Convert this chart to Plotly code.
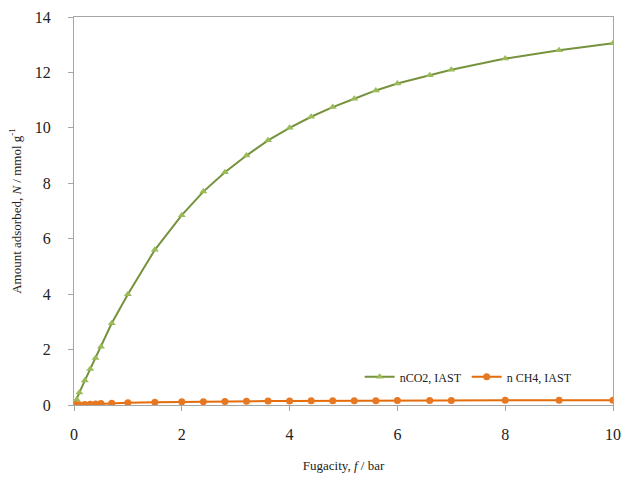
import plotly.graph_objects as go

# Fugacity (bar) at which the IAST amounts were evaluated
fugacity = [0, 0.05, 0.1, 0.2, 0.3, 0.4, 0.5, 0.7, 1.0, 1.5, 2.0, 2.4, 2.8, 3.2,
            3.6, 4.0, 4.4, 4.8, 5.2, 5.6, 6.0, 6.6, 7.0, 8.0, 9.0, 10.0]

# Amount adsorbed (mmol/g)
n_co2 = [0, 0.2, 0.45, 0.88, 1.3, 1.7, 2.1, 2.95, 4.0, 5.6, 6.85, 7.7, 8.4, 9.0,
         9.55, 10.0, 10.4, 10.75, 11.05, 11.35, 11.6, 11.9, 12.1, 12.5, 12.8, 13.05]
n_ch4 = [0, 0.005, 0.01, 0.02, 0.03, 0.04, 0.05, 0.065, 0.08, 0.1, 0.115, 0.12, 0.13, 0.135,
         0.14, 0.145, 0.15, 0.15, 0.155, 0.155, 0.16, 0.16, 0.165, 0.17, 0.17, 0.175]

series_names = ["nCO2, IAST", "n CH4, IAST"]
x_ticks = [0, 2, 4, 6, 8, 10]
y_ticks = [0, 2, 4, 6, 8, 10, 12, 14]

serif = "Times New Roman, Liberation Serif, serif"

fig = go.Figure()
fig.add_trace(go.Scatter(
    x=fugacity, y=n_co2, name=series_names[0], mode="lines+markers",
    line=dict(color="#76923C", width=2),
    marker=dict(symbol="triangle-up", size=7, color="#9BBB59"),
))
fig.add_trace(go.Scatter(
    x=fugacity, y=n_ch4, name=series_names[1], mode="lines+markers",
    line=dict(color="#E46C0A", width=2),
    marker=dict(symbol="circle", size=7, color="#E87722"),
))

axis_common = dict(
    showgrid=False, zeroline=False, showline=True, mirror=True,
    linecolor="#A6A6A6", linewidth=1, ticks="outside", ticklen=5,
    tickcolor="#A6A6A6", tickfont=dict(family=serif, size=16, color="#222222"),
)

fig.update_layout(
    width=625, height=481,
    margin=dict(l=74, r=12, t=17, b=76, autoexpand=False),
    paper_bgcolor="white", plot_bgcolor="white",
    font=dict(family=serif, color="#222222"),
    xaxis=dict(range=[0, 10], tickvals=x_ticks, ticklabelstandoff=10, **axis_common,
               title=dict(text="Fugacity, <i>f</i> / bar", font=dict(family=serif, size=13),
                          standoff=18)),
    yaxis=dict(range=[0, 14], tickvals=y_ticks, ticklabelstandoff=14, **axis_common,
               title=dict(text="Amount adsorbed, <i>N</i> / mmol g<sup>-1</sup>",
                          font=dict(family=serif, size=13), standoff=10)),
    legend=dict(orientation="h", x=0.53, y=0.11, xanchor="left", yanchor="top",
                bgcolor="rgba(0,0,0,0)", font=dict(family=serif, size=12),
                itemwidth=30, tracegroupgap=0),
    showlegend=True,
)

fig.write_html("out.html")
